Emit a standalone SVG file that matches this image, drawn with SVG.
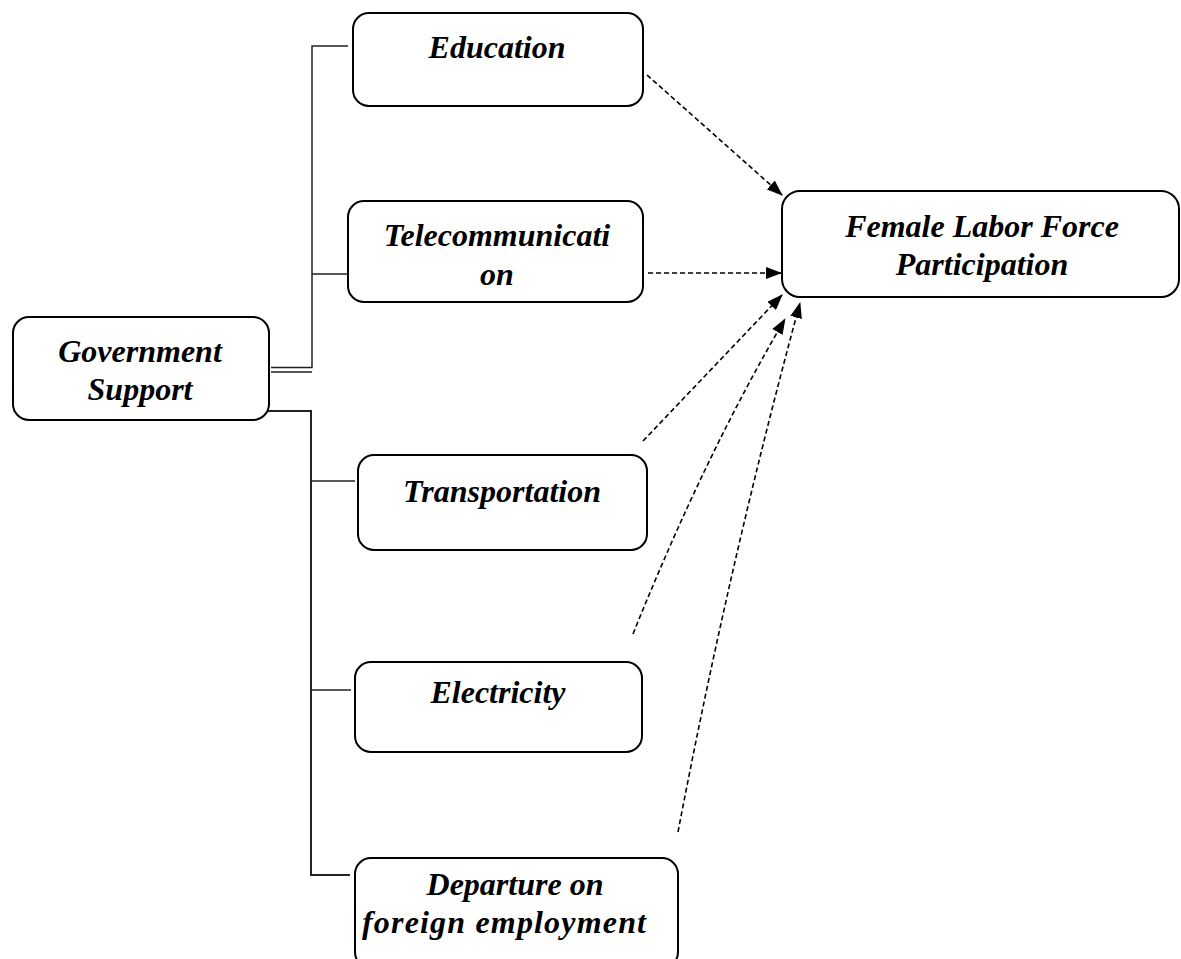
<svg xmlns="http://www.w3.org/2000/svg" width="1181" height="959" viewBox="0 0 1181 959">
<style>
.box{fill:#fff;stroke:#000;stroke-width:2}
.t{font-family:"Liberation Serif","Times New Roman",serif;font-weight:bold;font-style:italic;font-size:32px;fill:#000;text-anchor:middle}
.tree{fill:none;stroke:#222;stroke-width:1.5}
.dash{fill:none;stroke:#000;stroke-width:1.6;stroke-dasharray:5 3}
</style>
<defs>
<marker id="ah" viewBox="0 0 16 12" refX="15" refY="6" markerWidth="16" markerHeight="12" markerUnits="userSpaceOnUse" orient="auto">
<path d="M0,0 L16,6 L0,12 z" fill="#000"/>
</marker>
</defs>
<g id="connectors">
<path class="tree" d="M271,367.5 H312 V46 H348"/>
<path class="tree" d="M271,372 H312"/>
<path class="tree" d="M312,274 H348"/>
<path class="tree" d="M267,411 H311 V875 H350" style="stroke-width:2"/>
<path class="tree" d="M311,481 H355"/>
<path class="tree" d="M311,690 H351"/>
<path class="dash" d="M647,75 L782,195" marker-end="url(#ah)"/>
<path class="dash" d="M648,273 L781,273" marker-end="url(#ah)"/>
<path class="dash" d="M643,441 L782,295" marker-end="url(#ah)"/>
<path class="dash" d="M633,634 Q705,455 785,319" marker-end="url(#ah)"/>
<path class="dash" d="M678,832 Q730,560 800,303" marker-end="url(#ah)"/>
</g>
<g id="gov">
<rect class="box" x="13" y="317" width="256" height="103" rx="16"/>
<text class="t" x="140" y="362">Government</text>
<text class="t" x="140" y="400">Support</text>
</g>
<g id="education">
<rect class="box" x="353" y="13" width="290" height="93" rx="16"/>
<text class="t" x="497" y="58">Education</text>
</g>
<g id="telecom">
<rect class="box" x="348" y="201" width="295" height="101" rx="16"/>
<text class="t" x="497" y="246">Telecommunicati</text>
<text class="t" x="497" y="285">on</text>
</g>
<g id="transport">
<rect class="box" x="358" y="455" width="289" height="95" rx="16"/>
<text class="t" x="502" y="502">Transportation</text>
</g>
<g id="electricity">
<rect class="box" x="355" y="662" width="287" height="90" rx="16"/>
<text class="t" x="498" y="703">Electricity</text>
</g>
<g id="departure">
<rect class="box" x="355" y="858" width="323" height="110" rx="16"/>
<text class="t" x="515" y="895">Departure on</text>
<text class="t" x="504" y="933" textLength="284" lengthAdjust="spacing">foreign employment</text>
</g>
<g id="flfp">
<rect class="box" x="782" y="191" width="397" height="106" rx="18"/>
<text class="t" x="982" y="237">Female Labor Force</text>
<text class="t" x="982" y="275">Participation</text>
</g>
</svg>
